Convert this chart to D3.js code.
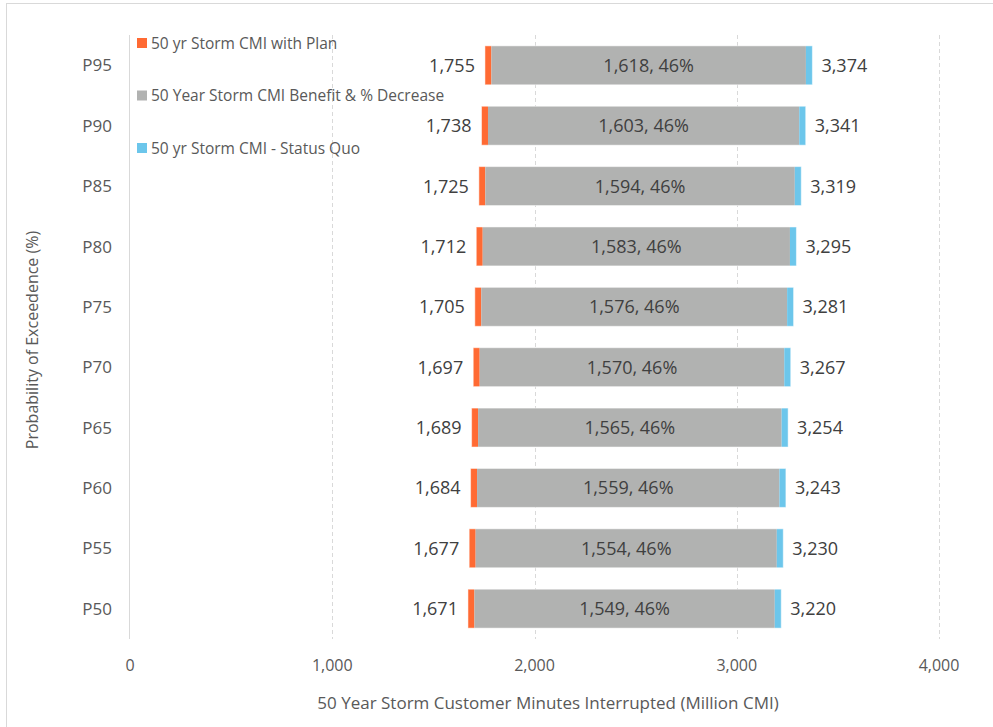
<!DOCTYPE html>
<html><head><meta charset="utf-8">
<script src="https://cdn.jsdelivr.net/npm/d3@7/dist/d3.min.js"></script>
<style>body{margin:0;background:#fff}svg{display:block}</style>
</head><body>
<svg id="c" width="993" height="727"></svg>
<script>
const categories = ["P95","P90","P85","P80","P75","P70","P65","P60","P55","P50"];
const withPlan   = [1755,1738,1725,1712,1705,1697,1689,1684,1677,1671];
const benefit    = [1618,1603,1594,1583,1576,1570,1565,1559,1554,1549];
const pctDecrease= [46,46,46,46,46,46,46,46,46,46];
const statusQuo  = [3374,3341,3319,3295,3281,3267,3254,3243,3230,3220];
const xTicks     = [0,1000,2000,3000,4000];
const markerWidth = 32; // width of end-marker segments in data units
const seriesNames = ["50 yr Storm CMI with Plan","50 Year Storm CMI Benefit & % Decrease","50 yr Storm CMI - Status Quo"];
const colors = ["#FF6A33","#B1B2B1","#6CC6EB"];

(function(){
const svg = d3.select("#c");
const fmt = d3.format(",");
const font = "'Open Sans', sans-serif";

svg.append("rect").attr("x",6.5).attr("y",3.5).attr("width",1000).attr("height",1000)
  .attr("fill","none").attr("stroke","#D9D9D9");

const pL=130, pR=939, pT=35, pB=639;
const x = d3.scaleLinear().domain([0,4000]).range([pL,pR]);
const y = d3.scaleBand().domain(categories).range([pT,pB]).paddingInner(0.355).paddingOuter(0.18);

svg.append("g").selectAll("line").data(xTicks.slice(1)).join("line")
  .attr("x1",d=>Math.round(x(d))+0.5).attr("x2",d=>Math.round(x(d))+0.5)
  .attr("y1",pT).attr("y2",pB)
  .attr("stroke","#D9D9D9").attr("stroke-dasharray","4,3");

svg.append("line").attr("x1",pL-0.5).attr("x2",pL-0.5).attr("y1",pT).attr("y2",pB)
  .attr("stroke","#D9D9D9");

const rows = categories.map((c,i)=>({c, plan:withPlan[i], ben:benefit[i], pct:pctDecrease[i], sq:statusQuo[i]}));
const g = svg.append("g");
const rowG = g.selectAll("g").data(rows).join("g");
const bh = y.bandwidth();
rowG.append("rect").attr("x",d=>x(d.plan)).attr("y",d=>y(d.c))
  .attr("width",d=>x(d.plan+markerWidth)-x(d.plan)).attr("height",bh).attr("fill",colors[0]);
rowG.append("rect").attr("x",d=>x(d.plan+markerWidth)).attr("y",d=>y(d.c))
  .attr("width",d=>x(d.sq-markerWidth)-x(d.plan+markerWidth)).attr("height",bh).attr("fill",colors[1]);
rowG.append("rect").attr("x",d=>x(d.sq-markerWidth)).attr("y",d=>y(d.c))
  .attr("width",d=>x(d.sq)-x(d.sq-markerWidth)).attr("height",bh).attr("fill",colors[2]);
rowG.append("rect").attr("x",d=>x(d.plan)).attr("y",d=>y(d.c)).attr("width",d=>x(d.sq)-x(d.plan)).attr("height",bh)
  .attr("fill","none").attr("stroke","#fff").attr("stroke-opacity",0.5).attr("stroke-width",1);

rowG.append("text").attr("x",d=>x(d.plan)-10).attr("y",d=>y(d.c)+bh/2).attr("dy","0.36em")
  .attr("text-anchor","end").attr("font-family",font).attr("font-size",18).attr("fill","#404040")
  .text(d=>fmt(d.plan));
rowG.append("text").attr("x",d=>(x(d.plan)+x(d.sq))/2).attr("y",d=>y(d.c)+bh/2).attr("dy","0.36em")
  .attr("text-anchor","middle").attr("font-family",font).attr("font-size",18).attr("fill","#404040")
  .text(d=>fmt(d.ben)+", "+d.pct+"%");
rowG.append("text").attr("x",d=>x(d.sq)+9).attr("y",d=>y(d.c)+bh/2).attr("dy","0.36em")
  .attr("text-anchor","start").attr("font-family",font).attr("font-size",18).attr("fill","#404040")
  .text(d=>fmt(d.sq));

svg.append("g").selectAll("text").data(categories).join("text")
  .attr("x",112).attr("y",d=>y(d)+bh/2).attr("dy","0.36em").attr("text-anchor","end")
  .attr("font-family",font).attr("font-size",17).attr("fill","#595959").text(d=>d);

svg.append("g").selectAll("text").data(xTicks).join("text")
  .attr("x",d=>x(d)).attr("y",665).attr("dy","0.36em").attr("text-anchor","middle")
  .attr("font-family","'Liberation Sans Narrow', 'Open Sans', sans-serif").attr("font-size",16).attr("fill","#595959").text(d=>fmt(d));

svg.append("text").attr("x",548).attr("y",703).attr("dy","0.36em").attr("text-anchor","middle")
  .attr("font-family",font).attr("font-size",17).attr("fill","#595959")
  .text("50 Year Storm Customer Minutes Interrupted (Million CMI)");
svg.append("text").attr("transform","translate(32,340) rotate(-90)").attr("dy","0.36em").attr("text-anchor","middle")
  .attr("font-family",font).attr("font-size",16).attr("fill","#595959").text("Probability of Exceedence (%)");

const lg = svg.append("g").selectAll("g").data(seriesNames).join("g")
  .attr("transform",(d,i)=>`translate(137,${43+i*52.5})`);
lg.append("rect").attr("x",0).attr("y",-5).attr("width",10).attr("height",10).attr("fill",(d,i)=>colors[i]);
lg.append("text").attr("x",14).attr("y",0).attr("dy","0.36em")
  .attr("font-family",font).attr("font-size",15.5).attr("fill","#595959").text(d=>d);
})();
</script>
</body></html>
